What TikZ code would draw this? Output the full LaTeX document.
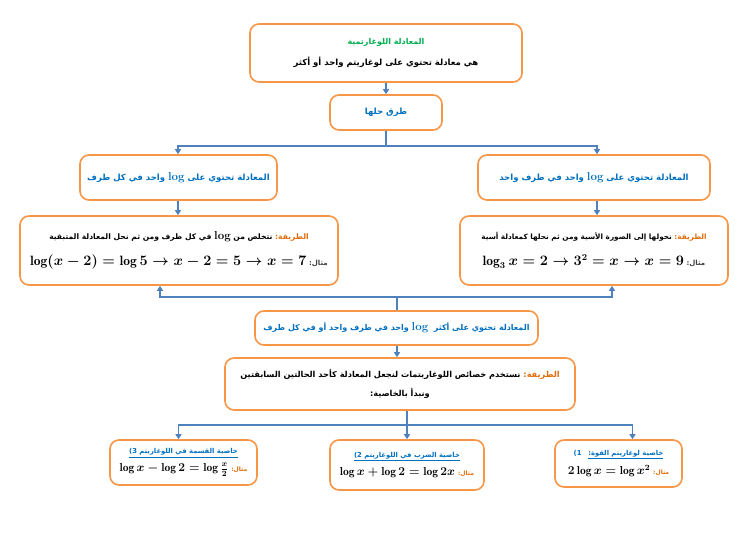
\documentclass[tikz,border=0pt]{standalone}
\usepackage{fontspec}
\TeXXeTstate=1
\newfontfamily\ar[Script=Arabic]{DejaVu Sans}
\usetikzlibrary{arrows.meta}
\definecolor{obox}{HTML}{F79646}
\definecolor{barrow}{HTML}{4F81BD}
\definecolor{btext}{HTML}{0070C0}
\definecolor{gtext}{HTML}{00B050}
\definecolor{otext}{HTML}{E36C09}
\definecolor{gray4}{HTML}{404040}
\newcommand\AR[1]{\beginR #1\endR}
\newcommand\METH{{\color{otext}\AR{الطريقة:}}}
\newcommand\LG{\beginL{\rmfamily\bfseries\fontsize{11.5}{11.5}\selectfont log}\endL}
\tikzset{
 box/.style={draw=obox, line width=1.6pt, rounded corners=9pt, fill=white, inner sep=2pt, align=center, font=\ar\bfseries\fontsize{8.5}{10}\selectfont},
 conn/.style={draw=barrow, line width=1.6pt},
 arr/.style={conn, -{Triangle[width=6pt,length=5pt]}},
}
\begin{document}
\begin{tikzpicture}[x=1pt,y=-1pt]
\useasboundingbox (0,0) rectangle (750,537);
\fill[white] (0,0) rectangle (750,537);

\node[box, minimum width=272pt, minimum height=58pt] (top) at (386,53)
 {{\color{gtext}\fontsize{8}{9}\selectfont\AR{المعادلة اللوغارتمية}}\\[10pt]\AR{هي معادلة تحتوي على لوغاريتم واحد أو أكثر}};
\node[box, minimum width=112pt, minimum height=35pt, text=btext] (way) at (386,112.5) {\AR{طرق حلها}};

\node[box, minimum width=197pt, minimum height=45pt, text=btext] (l1) at (178.5,177.5)
 {\AR{المعادلة تحتوي على \LG{} واحد في كل طرف}};
\node[box, minimum width=232pt, minimum height=45pt, text=btext] (r1) at (594,177.5)
 {\AR{المعادلة تحتوي على \LG{} واحد في طرف واحد}};

\node[box, minimum width=318pt, minimum height=69pt, font=\ar\bfseries\fontsize{7.6}{10}\selectfont] (l2) at (179,250.5)
 {\AR{نتخلص من \LG{} في كل طرف ومن ثم نحل المعادلة المتبقية}\ \METH\\[12pt]
  {\boldmath\fontsize{13.5}{13.5}\selectfont$\log(x-2)=\log 5\rightarrow x-2=5\rightarrow x=7$}\ {\color{gray4}\fontsize{7}{8}\selectfont\AR{مثال:}}};
\node[box, minimum width=268pt, minimum height=69pt, font=\ar\bfseries\fontsize{7.3}{10}\selectfont] (r2) at (594,250.5)
 {\AR{نحولها إلى الصورة الأسية ومن ثم نحلها كمعادلة أسية}\ \METH\\[12pt]
  {\boldmath\fontsize{13.5}{13.5}\selectfont$\log_3 x=2\rightarrow 3^2=x\rightarrow x=9$}\ {\color{gray4}\fontsize{7}{8}\selectfont\AR{مثال:}}};

\node[box, minimum width=283pt, minimum height=34pt, text=btext, font=\ar\bfseries\fontsize{8}{10}\selectfont] (mid) at (396.5,328)
 {\AR{المعادلة تحتوي على أكثر \ \LG{} واحد في طرف واحد أو في كل طرف}};
\node[box, minimum width=350pt, minimum height=52pt, font=\ar\bfseries\fontsize{8.2}{11}\selectfont] (m3) at (400,384)
 {\AR{نستخدم خصائص اللوغاريتمات لنجعل المعادلة كأحد الحالتين السابقتين}\ \METH\\[8pt]\AR{ونبدأ بالخاصية:}};

\node[box, minimum width=147pt, minimum height=45pt] (b3) at (183.5,462.5)
 {{\color{btext}\fontsize{6.8}{8}\selectfont\underline{3)\ \AR{خاصية القسمة في اللوغاريتم}}}\\[5pt]
  {\boldmath\fontsize{11.5}{11.5}\selectfont$\log x-\log 2=\log\frac{x}{2}$}\ {\color{otext}\fontsize{6}{7}\selectfont\AR{مثال:}}};
\node[box, minimum width=154pt, minimum height=50pt] (b2) at (407,465)
 {{\color{btext}\fontsize{6.8}{8}\selectfont\underline{2)\ \AR{خاصية الضرب في اللوغاريتم}}}\\[5pt]
  {\boldmath\fontsize{11.5}{11.5}\selectfont$\log x+\log 2=\log 2x$}\ {\color{otext}\fontsize{6}{7}\selectfont\AR{مثال:}}};
\node[box, minimum width=127pt, minimum height=47pt] (b1) at (618.5,463.5)
 {{\color{btext}\fontsize{6.8}{8}\selectfont 1)\quad\underline{\AR{خاصية لوغاريتم القوة:}}}\\[5pt]
  {\boldmath\fontsize{11.5}{11.5}\selectfont$2\log x=\log x^2$}\ {\color{otext}\fontsize{6}{7}\selectfont\AR{مثال:}}};

% connectors
\draw[arr] (top.south) -- (way.north);
\draw[conn] (way.south) -- ++(0,15) coordinate (j1);
\draw[arr] (j1) -| ([xshift=-0.5pt]l1.north);
\draw[arr] (j1) -| ([xshift=3pt]r1.north);
\draw[arr] ([xshift=-0.5pt]l1.south) -- ([xshift=-0.5pt]l1.south |- l2.north);
\draw[arr] ([xshift=3pt]r1.south) -- ([xshift=3pt]r1.south |- r2.north);

\draw[conn] ([xshift=0.5pt]mid.north) -- ++(0,-13) coordinate (j2);
\draw[arr] (j2) -| ([xshift=-19pt]l2.south);
\draw[arr] (j2) -| ([xshift=18pt]r2.south);

\draw[arr] ([xshift=0.5pt]mid.south) -- ([xshift=0.5pt]mid.south |- m3.north);
\draw[conn] ([xshift=7pt]m3.south) -- ++(0,14) coordinate (j3);
\draw[arr] (j3) -- (j3 |- b2.north);
\draw[arr] (j3) -| ([xshift=-5pt]b3.north);
\draw[arr] (j3) -| ([xshift=14pt]b1.north);
\end{tikzpicture}
\end{document}
